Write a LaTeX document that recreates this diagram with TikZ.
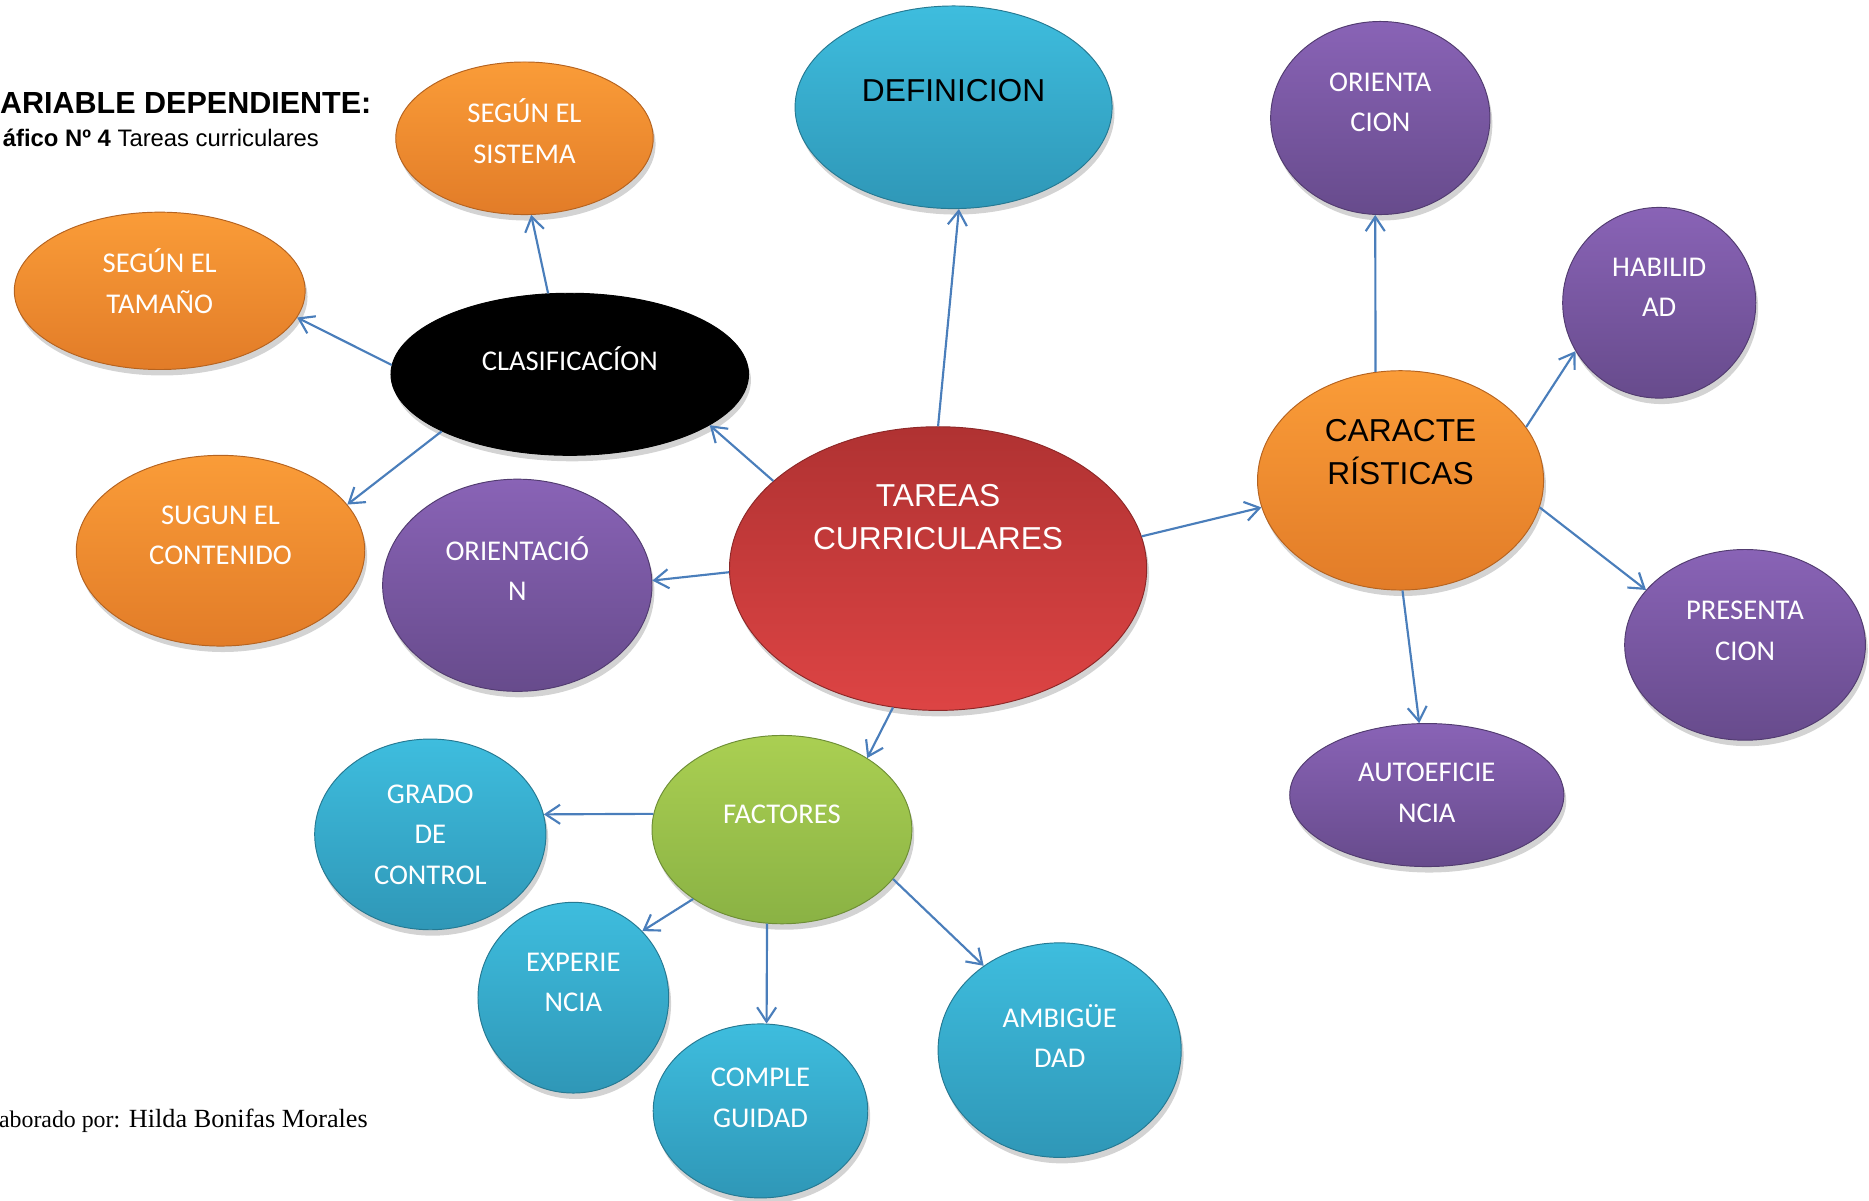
\documentclass[tikz,border=0pt]{standalone}
\usepackage{fontspec}
\setmainfont{Carlito}
\newfontfamily\arialfont{Liberation Sans}
\newfontfamily\timesfont{Liberation Serif}
\usetikzlibrary{shapes.geometric,arrows.meta,shadows}

\definecolor{arrblue}{RGB}{74,126,187}
\definecolor{orTop}{RGB}{250,156,56}
\definecolor{orBot}{RGB}{226,124,40}
\definecolor{cyTop}{RGB}{62,189,222}
\definecolor{cyBot}{RGB}{47,151,183}
\definecolor{puTop}{RGB}{137,99,182}
\definecolor{puBot}{RGB}{103,75,140}
\definecolor{reTop}{RGB}{176,50,50}
\definecolor{reBot}{RGB}{221,68,68}
\definecolor{grTop}{RGB}{170,207,82}
\definecolor{grBot}{RGB}{138,178,68}

\begin{document}
\begin{tikzpicture}[x=0.5pt,y=-0.5pt,
	bub/.style={ellipse, inner sep=0pt, line width=0.4pt,
		drop shadow={shadow xshift=1pt,shadow yshift=-2.5pt,opacity=0.35}},
	orangebub/.style={bub, top color=orTop, bottom color=orBot, draw=orBot!80!black},
	cyanbub/.style={bub, top color=cyTop, bottom color=cyBot, draw=cyBot!80!black},
	purplebub/.style={bub, top color=puTop, bottom color=puBot, draw=puBot!80!black},
	redbub/.style={bub, top color=reTop, bottom color=reBot, draw=reTop!80!black},
	greenbub/.style={bub, top color=grTop, bottom color=grBot, draw=grBot!80!black},
	blackbub/.style={bub, fill=black, draw=black},
	wtxt/.style={text=white, align=center, inner sep=0pt, font=\fontsize{12}{17}\selectfont},
	atxt/.style={align=center, inner sep=0pt, font=\arialfont\fontsize{13.3}{18}\selectfont},
	arr/.style={draw=arrblue, line width=0.9pt, -{Straight Barb[length=6pt,width=8pt]}}]
	\useasboundingbox (0,0) rectangle (1568,1007);

	% titles
	\node[anchor=base east, inner sep=0pt, font=\arialfont\bfseries\fontsize{12.8}{15}\selectfont] (titulo) at (312,95) {ARIABLE DEPENDIENTE:};
	\node[anchor=base east, inner sep=0pt, font=\arialfont\fontsize{10}{12}\selectfont] (grafico) at (268,123) {\textbf{áfico Nº 4} Tareas curriculares};
	\node[anchor=base east, inner sep=0pt, font=\timesfont\fontsize{11}{13}\selectfont] (autor) at (309,946) {{\fontsize{10}{12}\selectfont aborado por:} Hilda Bonifas Morales};

	% bubbles
	\node[redbub, minimum width=175pt, minimum height=119pt] (tareas) at (787,477) {};
	\node[atxt, text=white] (tareas-t) at (787,434) {TAREAS\\CURRICULARES};
	\node[cyanbub, minimum width=133pt, minimum height=85pt] (defin) at (800,90) {};
	\node[atxt] (defin-t) at (800,76) {DEFINICION};
	\node[blackbub, minimum width=150pt, minimum height=68pt] (clasif) at (478,314) {};
	\node[wtxt] (clasif-t) at (478,301) {CLASIFICACÍON};
	\node[orangebub, minimum width=108pt, minimum height=64pt] (sistema) at (440,116) {};
	\node[wtxt] (sistema-t) at (440,110) {SEGÚN EL\\SISTEMA};
	\node[orangebub, minimum width=122pt, minimum height=66pt] (tamano) at (134,244) {};
	\node[wtxt] (tamano-t) at (134,236) {SEGÚN EL\\TAMAÑO};
	\node[orangebub, minimum width=121pt, minimum height=80pt] (contenido) at (185,462) {};
	\node[wtxt] (contenido-t) at (185,449) {SUGUN EL\\CONTENIDO};
	\node[purplebub, minimum width=113pt, minimum height=89pt] (orientn) at (434,491) {};
	\node[wtxt] (orientn-t) at (434,477) {ORIENTACIÓ\\N};

	\node[orangebub, minimum width=120pt, minimum height=92pt] (caract) at (1175,403) {};
	\node[atxt] (caract-t) at (1175,379) {CARACTE\\RÍSTICAS};
	\node[purplebub, minimum width=92pt, minimum height=81pt] (orienta) at (1158,99) {};
	\node[wtxt] (orienta-t) at (1158,86) {ORIENTA\\CION};
	\node[purplebub, minimum width=81pt, minimum height=80pt] (habil) at (1392,254) {};
	\node[wtxt] (habil-t) at (1392,241) {HABILID\\AD};
	\node[purplebub, minimum width=101pt, minimum height=80pt] (presenta) at (1464,541) {};
	\node[wtxt] (presenta-t) at (1464,529) {PRESENTA\\CION};
	\node[purplebub, minimum width=115pt, minimum height=60pt] (autoef) at (1197,667) {};
	\node[wtxt] (autoef-t) at (1197,665) {AUTOEFICIE\\NCIA};

	\node[greenbub, minimum width=109pt, minimum height=79pt] (factores) at (656,696) {};
	\node[wtxt] (factores-t) at (656,683) {FACTORES};
	\node[cyanbub, minimum width=97pt, minimum height=80pt] (grado) at (361,700) {};
	\node[wtxt] (grado-t) at (361,700) {GRADO\\DE\\CONTROL};
	\node[cyanbub, minimum width=80pt, minimum height=80pt] (experi) at (481,837) {};
	\node[wtxt] (experi-t) at (481,824) {EXPERIE\\NCIA};
	\node[cyanbub, minimum width=90pt, minimum height=73pt] (comple) at (638,932) {};
	\node[wtxt] (comple-t) at (638,921) {COMPLE\\GUIDAD};
	\node[cyanbub, minimum width=102pt, minimum height=90pt] (ambig) at (889,881) {};
	\node[wtxt] (ambig-t) at (889,869) {AMBIGÜE\\DAD};

	% connectors
	\draw[arr] (tareas.90) -- (defin.273);
	\draw[arr] (tareas.152) -- (clasif.-20);
	\draw[arr] (clasif.105) -- (sistema.275);
	\draw[arr] (clasif.177) -- (tamano.-11);
	\draw[arr] (clasif.204) -- (contenido.20);
	\draw[arr] (tareas.181) -- (orientn.2);
	\draw[arr] (tareas.9) -- (caract.191);
	\draw[arr] (caract.103) -- (orienta.267);
	\draw[arr] (caract.23) -- (habil.210);
	\draw[arr] (caract.-11) -- (presenta.151);
	\draw[arr] (caract.271) -- (autoef.96);
	\draw[arr] (tareas.252) -- (factores.40);
	\draw[arr] (factores.173) -- (grado.10);
	\draw[arr] (factores.218) -- (experi.44);
	\draw[arr] (factores.261) -- (comple.86);
	\draw[arr] (factores.-24) -- (ambig.132);
\end{tikzpicture}
\end{document}
